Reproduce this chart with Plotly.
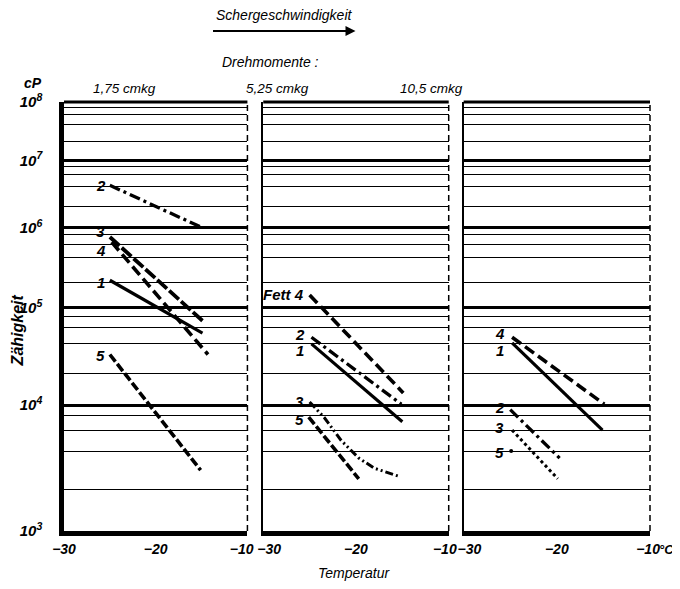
import numpy as np
import plotly.graph_objects as go

# ---------------- data (temperature in °C, viscosity in cP) ----------------
panel_titles = ["1,75 cmkg", "5,25 cmkg", "10,5 cmkg"]

# Panel 1: 1,75 cmkg
p1_c1_T = [-25.0, -14.9];  p1_c1_cP = [2.1e5, 5.2e4]
p1_c2_T = [-25.0, -14.9];  p1_c2_cP = [4.1e6, 1.0e6]
p1_c3_T = [-25.0, -14.9];  p1_c3_cP = [7.5e5, 7.1e4]
p1_c4_T = [-24.8, -14.3];  p1_c4_cP = [6.4e5, 3.1e4]
p1_c5_T = [-25.0, -15.1];  p1_c5_cP = [3.1e4, 2.8e3]

# Panel 2: 5,25 cmkg
p2_c1_T = [-24.8, -15.0];  p2_c1_cP = [4.0e4, 7.1e3]
p2_c2_T = [-24.8, -15.1];  p2_c2_cP = [4.7e4, 1.02e4]
p2_c3_T = [-25.0, -23.4, -21.6, -19.7, -18.0, -15.3]
p2_c3_cP = [1.07e4, 7.7e3, 4.9e3, 3.5e3, 2.9e3, 2.5e3]
p2_c4_T = [-25.0, -14.9];  p2_c4_cP = [1.4e5, 1.3e4]
p2_c5_T = [-25.1, -19.7];  p2_c5_cP = [7.8e3, 2.4e3]

# Panel 3: 10,5 cmkg
p3_c1_T = [-24.8, -15.1];  p3_c1_cP = [4.1e4, 6.0e3]
p3_c2_T = [-25.0, -19.7];  p3_c2_cP = [9.1e3, 3.5e3]
p3_c3_T = [-24.8, -19.9];  p3_c3_cP = [6.0e3, 2.4e3]
p3_c4_T = [-24.8, -14.9];  p3_c4_cP = [4.7e4, 1.02e4]
p3_c5_T = [-24.9];         p3_c5_cP = [4.0e3]

# curve labels: (panel, text, T, cP)
label_panel = [1, 1, 1, 1, 1, 2, 2, 2, 2, 2, 3, 3, 3, 3, 3]
label_text = ["2", "3", "4", "1", "5", "Fett 4", "2", "1", "3", "5", "4", "1", "2", "3", "5"]
label_T = [-26.0, -26.0, -26.0, -26.0, -26.0, -25.4, -26.0, -26.0, -26.1, -26.1,
           -26.1, -26.1, -26.1, -26.1, -26.1]
label_cP = [4.1e6, 8.8e5, 5.0e5, 2.0e5, 3.0e4, 1.4e5, 5.0e4, 3.4e4, 1.07e4, 7.4e3,
            5.2e4, 3.4e4, 9.6e3, 6.3e3, 3.9e3]

decades = [3, 4, 5, 6, 7, 8]
decade_text = ["10<sup>3</sup>", "10<sup>4</sup>", "10<sup>5</sup>",
               "10<sup>6</sup>", "10<sup>7</sup>", "10<sup>8</sup>"]
minor_mult = [2, 4, 6, 8]
x_ticks = [-30, -20, -10]
NB = "\u00a0"
x_tick_text = {
    1: ["−30", "−20", "−10" + NB * 3],
    2: [NB * 3 + "−30", "−20", "−10" + NB * 2],
    3: [NB * 3 + "−30", "−20", "−10" + NB],
}

# ---------------- styles ----------------
FONT = "Liberation Sans, Arial, sans-serif"
styles = {
    "solid": dict(dash="solid", width=3.2),
    "dashdot": dict(dash="11px,4px,3px,4px", width=3.3),
    "dashdotdot": dict(dash="8px,3px,2px,3px,2px,3px", width=3.0),
    "longdash": dict(dash="11px,5px", width=3.6),
    "dash": dict(dash="9px,3px", width=3.6),
    "heavy": dict(dash="13px,3px", width=3.8),
    "dots": dict(dash="3px,3px", width=3.0),
}

series = {
    1: [("solid", p1_c1_T, p1_c1_cP), ("dashdot", p1_c2_T, p1_c2_cP),
        ("heavy", p1_c3_T, p1_c3_cP), ("longdash", p1_c4_T, p1_c4_cP),
        ("dash", p1_c5_T, p1_c5_cP)],
    2: [("solid", p2_c1_T, p2_c1_cP), ("dashdot", p2_c2_T, p2_c2_cP),
        ("dashdotdot", p2_c3_T, p2_c3_cP), ("longdash", p2_c4_T, p2_c4_cP),
        ("dash", p2_c5_T, p2_c5_cP)],
    3: [("solid", p3_c1_T, p3_c1_cP), ("dashdot", p3_c2_T, p3_c2_cP),
        ("dots", p3_c3_T, p3_c3_cP), ("longdash", p3_c4_T, p3_c4_cP)],
}

fig = go.Figure()

for p in (1, 2, 3):
    xa = "x" if p == 1 else f"x{p}"
    ya = "y" if p == 1 else f"y{p}"
    for sid, T, cP in series[p]:
        fig.add_trace(go.Scatter(
            x=T, y=np.log10(cP), mode="lines", xaxis=xa, yaxis=ya,
            line=dict(color="black", width=styles[sid]["width"], dash=styles[sid]["dash"]),
            showlegend=False, hoverinfo="skip"))

# single dot for curve 5 in panel 3
fig.add_trace(go.Scatter(x=p3_c5_T, y=np.log10(p3_c5_cP), mode="markers",
                         xaxis="x3", yaxis="y3",
                         marker=dict(color="black", size=4), showlegend=False))

# ---------------- axes ----------------
domains = [[0.0, 0.313], [0.340, 0.6565], [0.682, 1.0]]
minor_vals = [d + np.log10(m) for d in decades[:-1] for m in minor_mult]

tick_font = dict(family=FONT, size=15, color="black", style="italic", weight="bold")
xtick_font = dict(family=FONT, size=14, color="black", style="italic", weight="bold")

for i, p in enumerate((1, 2, 3)):
    xk = "xaxis" if p == 1 else f"xaxis{p}"
    yk = "yaxis" if p == 1 else f"yaxis{p}"
    xr = "x" if p == 1 else f"x{p}"
    yr = "y" if p == 1 else f"y{p}"
    fig.layout[xk] = dict(
        domain=domains[i], range=[-30, -10], anchor=yr,
        tickmode="array", tickvals=x_ticks, ticktext=x_tick_text[p],
        showgrid=False, zeroline=False, showline=True, linewidth=5, linecolor="black",
        ticks="", tickfont=xtick_font, ticklabelstandoff=1)
    fig.layout[yk] = dict(
        type="log", range=[np.log10(3), np.log10(8)], anchor=xr,
        tickmode="array", tickvals=decades, ticktext=decade_text,
        showticklabels=(p == 1), ticks="",
        showgrid=True, gridcolor="black", gridwidth=2.6,
        minor=dict(tickmode="array", tickvals=minor_vals, showgrid=True,
                   gridcolor="black", gridwidth=1.1, ticks=""),
        showline=True, linecolor="black", linewidth=(4.5 if p == 1 else 1.5),
        zeroline=False, tickfont=tick_font, ticklabelstandoff=14)
    if p != 1:
        fig.layout[yk]["matches"] = "y"
    # dashed right border of each panel
    fig.add_shape(type="line", xref=f"{xr} domain", yref=f"{yr} domain",
                  x0=1, x1=1, y0=0, y1=1, line=dict(color="black", width=1.5, dash="6px,4px"))
    # heavy top (10^8) line
    fig.add_shape(type="line", xref=f"{xr} domain", yref=f"{yr} domain",
                  x0=0, x1=1, y0=1, y1=1, line=dict(color="black", width=3))

# ---------------- annotations ----------------
ann_font = dict(family=FONT, size=15, color="black", style="italic", weight="bold")
for p, txt, T, cP in zip(label_panel, label_text, label_T, label_cP):
    xa = "x" if p == 1 else f"x{p}"
    ya = "y" if p == 1 else f"y{p}"
    fig.add_annotation(x=T, y=np.log10(np.log10(cP)), xref=xa, yref=ya, text=txt,
                       showarrow=False, font=ann_font,
                       xanchor="right" if txt.startswith("Fett") else "center",
                       yanchor="middle")


# paper-coordinate helpers (plot area in page pixels: x 60..651, y 102..531)
def px_x(px):
    return (px - 60) / 591.0


def px_y(py):
    return (531 - py) / 429.0


top_font = dict(family=FONT, size=14, color="black", style="italic")
title_font = dict(family=FONT, size=13.5, color="black", style="italic")


def paper_text(px, py, text, font=top_font, angle=0, xanchor="center"):
    fig.add_annotation(x=px_x(px), y=px_y(py), xref="paper", yref="paper",
                       text=text, showarrow=False, font=font, textangle=angle,
                       xanchor=xanchor, yanchor="middle", borderpad=0)


paper_text(282, 15, "Schergeschwindigkeit")
fig.add_annotation(x=px_x(354), y=px_y(31), xref="paper", yref="paper", text="",
                   showarrow=True, ax=-144, ay=0, arrowhead=2, arrowsize=1,
                   arrowwidth=2, arrowcolor="black")
paper_text(268, 62, "Drehmomente :")
for c, t in zip([121, 275, 431], panel_titles):
    paper_text(c, 88, t, font=title_font)
paper_text(29, 83, "<b>cP</b>", font=dict(family=FONT, size=14, color="black", style="italic"))
paper_text(13, 330, "<b>Zähigkeit</b>", angle=-90,
           font=dict(family=FONT, size=16, color="black", style="italic"))
paper_text(352, 573, "Temperatur")
paper_text(676, 549, "°C", xanchor="right",
           font=dict(family=FONT, size=13, color="black", style="italic", weight="bold"))

fig.update_layout(width=672, height=581, plot_bgcolor="white", paper_bgcolor="white",
                  margin=dict(l=52, r=29, t=94, b=58), showlegend=False)

fig.write_html("out.html")
